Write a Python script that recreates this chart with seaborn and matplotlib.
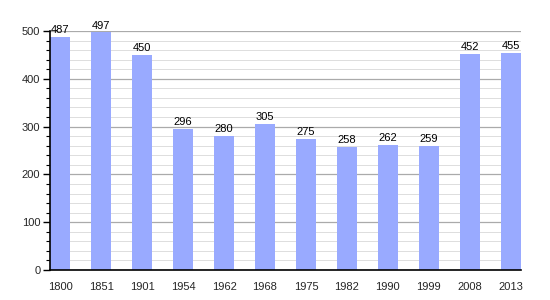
import matplotlib
matplotlib.use("Agg")
import matplotlib.pyplot as plt
import seaborn as sns
import pandas as pd
from matplotlib.ticker import MultipleLocator

years = ["1800", "1851", "1901", "1954", "1962", "1968", "1975", "1982", "1990", "1999", "2008", "2013"]
population = [487, 497, 450, 296, 280, 305, 275, 258, 262, 259, 452, 455]

df = pd.DataFrame({"year": years, "pop": population})

sns.set_theme(style="white")
plt.rcParams["font.family"] = ["Liberation Sans", "DejaVu Sans"]

fig = plt.figure(figsize=(5.5, 3), dpi=100)
ax = fig.add_axes([50/550, 30/300, 471/550, 239/300])

sns.barplot(data=df, x="year", y="pop", color="#99aaff", saturation=1, width=0.5,
            linewidth=0, ax=ax)

ax.set_xlim(-0.25, 11.25)
ax.set_ylim(0, 500)
ax.yaxis.set_major_locator(MultipleLocator(100))
ax.yaxis.set_minor_locator(MultipleLocator(20))
ax.grid(axis="y", which="major", color="#aaaaaa", linewidth=0.9)
ax.grid(axis="y", which="minor", color="#dddddd", linewidth=0.7)
ax.set_axisbelow(True)

for s in ["top", "right"]:
    ax.spines[s].set_visible(False)
for s in ["left", "bottom"]:
    ax.spines[s].set_color("black")
    ax.spines[s].set_linewidth(1.2)
    ax.spines[s].set_zorder(5)

ax.tick_params(axis="y", which="major", left=True, length=5, width=1, color="black", labelsize=8, pad=2)
ax.tick_params(axis="y", which="minor", left=True, length=3, width=0.8, color="black")
ax.tick_params(axis="x", bottom=False, labelsize=8, pad=3)
ax.set_xlabel("")
ax.set_ylabel("")

for i, v in enumerate(population):
    ax.text(i, v + 4, str(v), ha="center", va="bottom", fontsize=8, color="black")

fig.savefig("out.png", dpi=100)
